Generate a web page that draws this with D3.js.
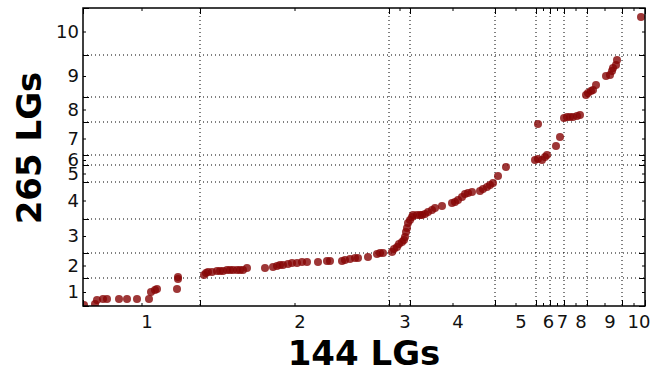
<!DOCTYPE html>
<html>
<head>
<meta charset="utf-8">
<script src="https://cdn.jsdelivr.net/npm/d3@7"></script>
<style>
  html, body { margin: 0; padding: 0; background: #fff; }
  svg { display: block; }
  .tick text { font-family: 'DejaVu Sans', sans-serif; font-size: 18px; fill: #111; }
  .title { font-family: 'DejaVu Sans', sans-serif; font-size: 34px; font-weight: bold; fill: #000; }
</style>
</head>
<body>
<svg id="chart" width="659" height="373"></svg>
<script>
const WIDTH = 659;
const HEIGHT = 373;
const MARGIN = { top: 8, right: 14, bottom: 67, left: 83 };
const COLOR_DOT = '#860505';

// linkage group lengths, in map units, LG1 first
const X_LG_LENGTHS = [117, 189, 21, 85, 41, 14, 14, 23, 35, 23];
const Y_LG_LENGTHS = [28, 25, 34, 37, 17, 10, 33, 25, 42, 47];
const LG_LABELS = ['1', '2', '3', '4', '5', '6', '7', '8', '9', '10'];

// shared markers: [cumulative position on 144 map, cumulative position on 265 map]
const MARKERS = [
  [1, 1], [12, 2], [14, 6], [20, 7], [24, 7], [36, 7], [44, 7], [54, 7], [66, 7],
  [68, 14], [72, 16], [74, 17], [94, 17], [95, 27], [95, 29],
  [121, 31], [123, 33], [125, 34], [129, 34], [134, 35], [137, 35], [140, 35],
  [144, 36], [147, 36], [150, 36], [154, 36], [157, 36], [160, 36], [164, 38],
  [182, 38], [190, 39], [194, 40], [197, 41], [200, 41], [205, 42], [209, 43],
  [214, 43], [219, 44], [224, 44], [235, 44], [244, 45], [247, 45],
  [259, 45], [262, 46], [267, 47], [272, 48], [275, 48], [285, 49],
  [294, 52], [297, 53], [300, 53],
  [309, 54], [311, 57], [314, 59], [316, 62], [319, 64], [321, 66], [322, 69],
  [323, 74], [324, 78], [325, 83], [327, 86], [329, 89], [330, 91], [334, 91],
  [337, 91], [339, 91], [342, 92], [345, 94], [349, 96], [352, 98], [359, 100],
  [369, 103], [372, 104], [375, 106], [379, 109], [382, 112], [385, 113],
  [389, 114], [397, 115], [400, 117], [404, 119], [407, 121], [410, 123],
  [415, 130], [423, 139],
  [452, 146], [455, 147], [459, 146], [462, 149], [464, 151], [455, 182],
  [473, 160], [477, 169],
  [481, 188], [484, 189], [487, 189], [490, 189], [494, 190], [497, 191],
  [503, 211], [505, 213], [508, 215], [510, 216], [513, 221],
  [523, 230], [527, 231], [529, 235], [530, 238], [533, 241], [534, 246],
  [558, 289]
];

const innerW = WIDTH - MARGIN.left - MARGIN.right;
const innerH = HEIGHT - MARGIN.top - MARGIN.bottom;

const xBounds = [0, ...d3.cumsum(X_LG_LENGTHS)];
const yBounds = [0, ...d3.cumsum(Y_LG_LENGTHS)];
const xCenters = X_LG_LENGTHS.map((len, i) => xBounds[i] + len / 2);
const yCenters = Y_LG_LENGTHS.map((len, i) => yBounds[i] + len / 2);

const x = d3.scaleLinear().domain([0, d3.sum(X_LG_LENGTHS)]).range([0, innerW]);
const y = d3.scaleLinear().domain([0, d3.sum(Y_LG_LENGTHS)]).range([innerH, 0]);

const svg = d3.select('#chart');
const g = svg.append('g').attr('transform', `translate(${MARGIN.left},${MARGIN.top})`);

g.append('clipPath').attr('id', 'plot-clip')
  .append('rect').attr('width', innerW).attr('height', innerH);

// dotted grid on the LG boundaries
const grid = g.append('g')
  .attr('stroke', '#000')
  .attr('stroke-width', 1)
  .attr('stroke-dasharray', '1,3');

grid.selectAll('line.vx')
  .data(xBounds.slice(1, -1))
  .join('line')
  .attr('class', 'vx')
  .attr('x1', d => x(d)).attr('x2', d => x(d))
  .attr('y1', 0).attr('y2', innerH);

grid.selectAll('line.hy')
  .data(yBounds.slice(1, -1))
  .join('line')
  .attr('class', 'hy')
  .attr('x1', 0).attr('x2', innerW)
  .attr('y1', d => y(d)).attr('y2', d => y(d));

// markers
g.append('g')
  .attr('clip-path', 'url(#plot-clip)')
  .selectAll('circle')
  .data(MARKERS)
  .join('circle')
  .attr('cx', d => x(d[0]))
  .attr('cy', d => y(d[1]))
  .attr('r', 4)
  .attr('fill', COLOR_DOT)
  .attr('fill-opacity', 0.8);

// ticks point inwards on all four sides: long ones on boundaries, short ones on centres
function addAxis(axisFn, scale, values, size, transform, format) {
  const axis = axisFn(scale)
    .tickValues(values)
    .tickSizeInner(-size)
    .tickSizeOuter(0)
    .tickPadding(format ? 9 : 0)
    .tickFormat(format || '');
  const sel = g.append('g').attr('transform', transform).call(axis);
  sel.select('.domain').remove();
  sel.selectAll('.tick line').attr('stroke', '#000').attr('stroke-width', 1);
  return sel;
}

addAxis(d3.axisBottom, x, xBounds, 6, `translate(0,${innerH})`);
addAxis(d3.axisTop, x, xBounds, 6, 'translate(0,0)');
addAxis(d3.axisLeft, y, yBounds, 6, 'translate(0,0)');
addAxis(d3.axisRight, y, yBounds, 6, `translate(${innerW},0)`);

const bottomLabels = addAxis(d3.axisBottom, x, xCenters, 3, `translate(0,${innerH})`, (d, i) => LG_LABELS[i]);
bottomLabels.selectAll('.tick text').attr('x', 5);
addAxis(d3.axisTop, x, xCenters, 3, 'translate(0,0)');
const leftLabels = addAxis(d3.axisLeft, y, yCenters, 3, 'translate(0,0)', (d, i) => LG_LABELS[i]);
leftLabels.selectAll('.tick text').attr('x', -4);
addAxis(d3.axisRight, y, yCenters, 3, `translate(${innerW},0)`);

// frame
g.append('rect')
  .attr('width', innerW)
  .attr('height', innerH)
  .attr('fill', 'none')
  .attr('stroke', '#000')
  .attr('stroke-width', 1.5);

// axis titles
svg.append('text')
  .attr('class', 'title')
  .attr('x', MARGIN.left + innerW / 2)
  .attr('y', 365)
  .attr('text-anchor', 'middle')
  .text('144 LGs');

svg.append('text')
  .attr('class', 'title')
  .attr('transform', 'translate(41,148) rotate(-90)')
  .attr('text-anchor', 'middle')
  .text('265 LGs');
</script>
</body>
</html>
